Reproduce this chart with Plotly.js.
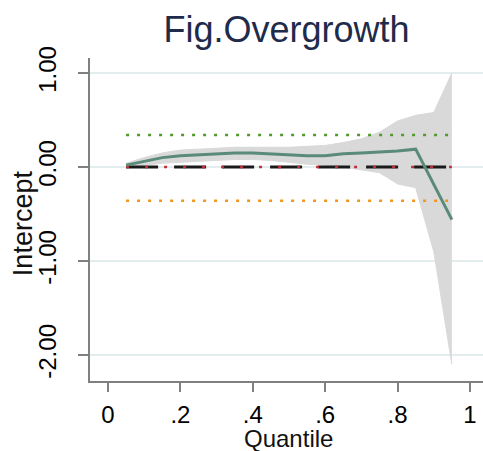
<!DOCTYPE html>
<html>
<head>
<meta charset="utf-8">
<script src="https://cdn.plot.ly/plotly-3.0.1.min.js"></script>
<style>html,body{margin:0;padding:0;background:#fff;}#chart{width:483px;height:451px;}</style>
</head>
<body>
<div id="chart"></div>
<script>
// Quantiles
const quantiles = [0.05,0.10,0.15,0.20,0.25,0.30,0.35,0.40,0.45,0.50,0.55,0.60,0.65,0.70,0.75,0.80,0.85,0.90,0.95];
// Quantile regression coefficient (Intercept)
const coef = [0.02,0.06,0.10,0.12,0.13,0.14,0.15,0.15,0.14,0.13,0.12,0.12,0.14,0.15,0.16,0.17,0.19,-0.18,-0.56];
// Confidence band
const ciUpper = [0.04,0.10,0.15,0.18,0.19,0.20,0.21,0.21,0.21,0.21,0.22,0.23,0.26,0.30,0.37,0.49,0.55,0.58,1.00];
const ciLower = [0.00,0.02,0.04,0.05,0.06,0.07,0.08,0.08,0.07,0.05,0.03,0.02,0.00,-0.03,-0.06,-0.18,-0.22,-0.90,-2.10];
// OLS estimate and its confidence interval
const olsX = [0.05, 0.95];
const olsCoef = 0.00;
const olsUpper = 0.34;
const olsLower = -0.36;
// Ticks
const xTicks = [0, 0.2, 0.4, 0.6, 0.8, 1];
const xTickText = ['0', '.2', '.4', '.6', '.8', '1'];
const yTicks = [1, 0, -1, -2];
const yTickText = ['1.00', '0.00', '-1.00', '-2.00'];
const xTitle = 'Quantile';
const yTitle = 'Intercept';

const bandColor = '#d9d9d9';
const traces = [
  {x: quantiles, y: ciLower, mode: 'lines', line: {color: bandColor, width: 1}, hoverinfo: 'skip', showlegend: false},
  {x: quantiles, y: ciUpper, mode: 'lines', fill: 'tonexty', fillcolor: bandColor, line: {color: bandColor, width: 1}, hoverinfo: 'skip', showlegend: false},
  {x: olsX, y: olsX.map(() => olsUpper), mode: 'lines', line: {color: '#4e9a2a', width: 2.5, dash: '3px,8px'}, showlegend: false},
  {x: olsX, y: olsX.map(() => olsLower), mode: 'lines', line: {color: '#f0961a', width: 2.5, dash: '3px,8px'}, showlegend: false},
  {x: olsX, y: olsX.map(() => olsCoef), mode: 'lines', line: {color: '#1a1a1a', width: 3, dash: '32px,16px'}, showlegend: false},
  {x: olsX, y: olsX.map(() => olsCoef), mode: 'lines', line: {color: '#c0303a', width: 2.5, dash: '3px,16px'}, showlegend: false},
  {x: quantiles, y: coef, mode: 'lines', line: {color: '#5a8a78', width: 3}, showlegend: false}
];

const layout = {
  width: 483, height: 451,
  margin: {l: 90, r: 0, t: 58, b: 70},
  paper_bgcolor: '#ffffff', plot_bgcolor: '#ffffff',
  font: {family: 'Liberation Sans, Arial, sans-serif', color: '#000000'},
  title: {text: 'Fig.Overgrowth', font: {size: 36, color: '#1e2b4a', family: 'Liberation Sans, Arial, sans-serif'}, x: 0.5, xref: 'paper', xanchor: 'center', y: 0.935, yref: 'container', yanchor: 'middle'},
  xaxis: {
    range: [-0.0497, 1.036], tickvals: xTicks, ticktext: xTickText,
    ticks: 'outside', ticklen: 9, tickwidth: 2, tickcolor: '#808080', ticklabelstandoff: 2,
    showline: true, linecolor: '#808080', linewidth: 2, showgrid: false, zeroline: false,
    tickfont: {size: 24, color: '#000'}
  },
  yaxis: {
    range: [-2.277, 1.16], tickvals: yTicks, ticktext: yTickText, tickangle: -90,
    ticks: 'outside', ticklen: 10, tickwidth: 2, tickcolor: '#808080', ticklabelstandoff: 12,
    showline: true, linecolor: '#808080', linewidth: 2,
    showgrid: true, gridcolor: '#e3eded', gridwidth: 1.5, zeroline: false,
    tickfont: {size: 24, color: '#000'}
  },
  annotations: [
    {text: xTitle, xref: 'paper', yref: 'paper', x: 0.505, y: -0.178, xanchor: 'center', yanchor: 'middle', showarrow: false, font: {size: 24, color: '#111'}},
    {text: yTitle, xref: 'paper', yref: 'paper', x: -0.172, y: 0.49, xanchor: 'center', yanchor: 'middle', textangle: -90, showarrow: false, font: {size: 27, color: '#111'}}
  ]
};

Plotly.newPlot('chart', traces, layout, {displayModeBar: false, staticPlot: true});
</script>
</body>
</html>
